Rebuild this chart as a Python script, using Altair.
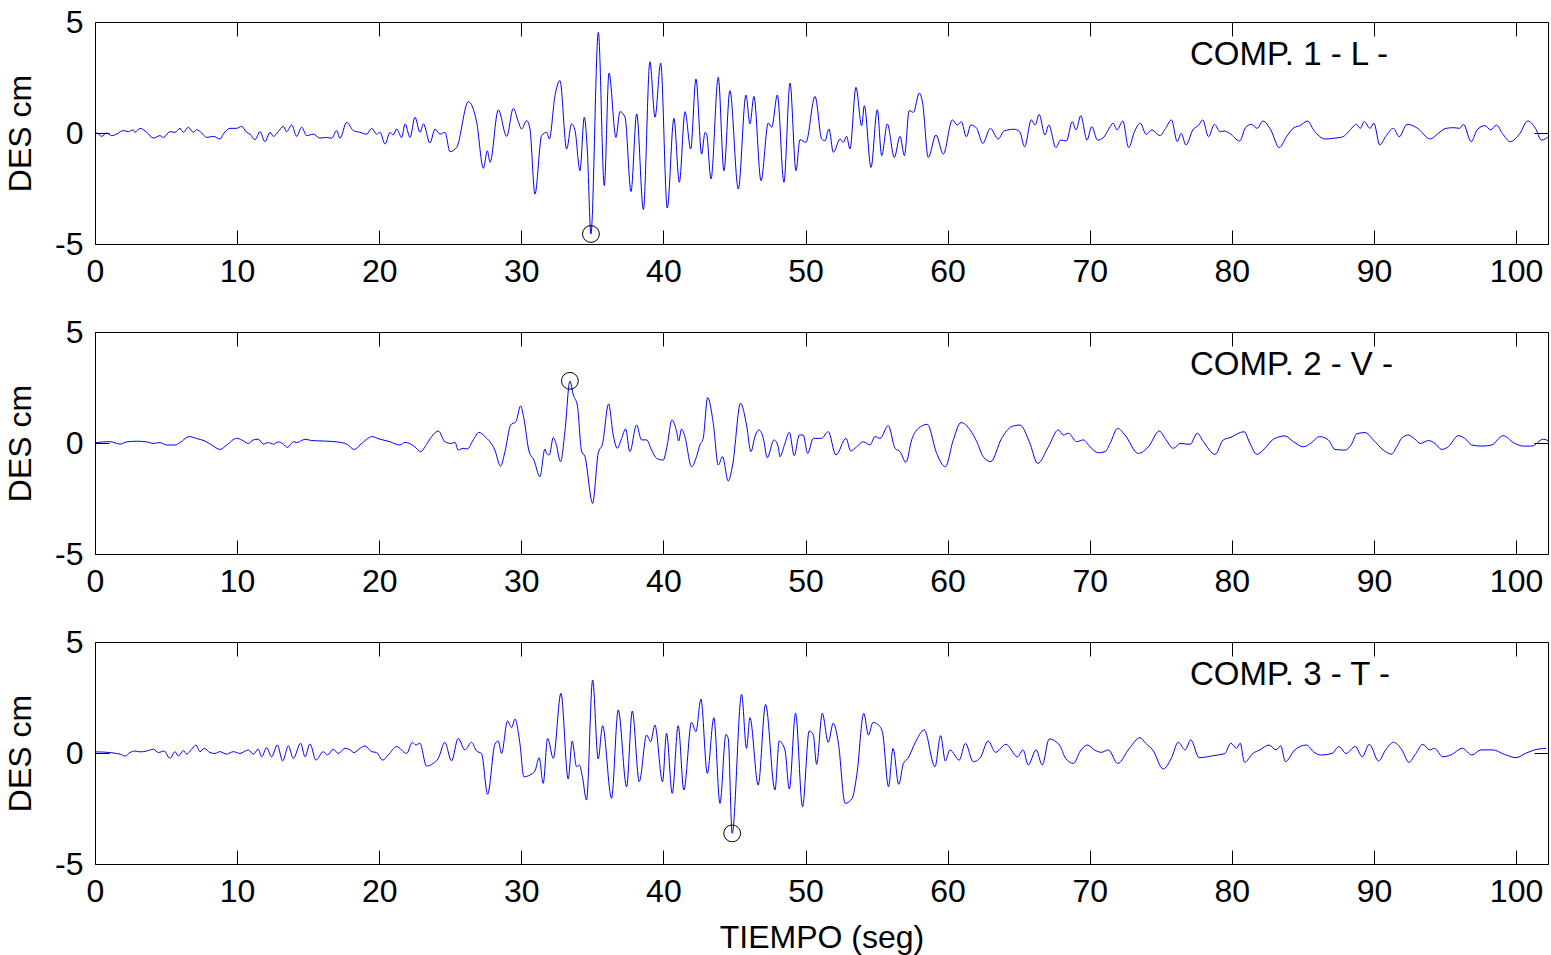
import altair as alt
import pandas as pd

# ---------------- data ----------------
X_MAX = 102.25
X_TICKS = [0, 10, 20, 30, 40, 50, 60, 70, 80, 90, 100]
Y_TICKS = [-5, 0, 5]

LABELS = ["COMP. 1 - L -", "COMP. 2 - V -", "COMP. 3 - T -"]
LABEL_T = [77.06, 77.06, 77.06]
LABEL_V = [3.5, 3.5, 3.5]

PEAK_T = [34.90, 33.42, 44.84]
PEAK_V = [-4.55, 2.80, -3.62]

# Component 1 (L)
T1 = [0.00, 0.12, 0.47, 0.82, 1.17, 1.52, 1.99, 2.35, 2.70, 2.81,
      3.17, 3.64, 4.11, 4.57, 4.81, 5.28, 5.63, 5.98, 6.22, 6.57,
      6.92, 7.15, 7.51, 7.86, 8.33, 8.80, 9.03, 9.50, 9.97, 10.32,
      10.67, 10.91, 11.26, 11.61, 11.96, 12.32, 12.55, 12.90, 13.25, 13.49,
      13.84, 14.19, 14.54, 14.90, 15.36, 15.83, 16.30, 16.65, 17.01, 17.24,
      17.71, 18.18, 18.65, 19.12, 19.47, 19.82, 20.06, 20.41, 20.76, 20.99,
      21.23, 21.58, 21.82, 22.17, 22.52, 22.87, 23.11, 23.57, 23.93, 24.28,
      24.63, 24.98, 25.45, 26.27, 26.86, 27.33, 27.61, 27.80, 28.38, 28.97,
      29.44, 29.79, 30.02, 30.38, 30.61, 30.96, 31.43, 31.78, 31.97, 32.37,
      32.72, 33.19, 33.54, 33.78, 34.13, 34.43, 34.64, 34.90, 35.42, 35.84,
      36.17, 36.66, 36.94, 37.30, 37.72, 38.12, 38.59, 39.05, 39.41, 39.81,
      40.27, 40.74, 41.12, 41.52, 41.92, 42.29, 42.69, 42.93, 43.04, 43.35,
      43.86, 44.26, 44.68, 45.27, 45.81, 46.09, 46.37, 46.87, 47.38, 47.62,
      48.02, 48.48, 48.91, 49.33, 49.61, 50.03, 50.67, 51.14, 51.37, 51.65,
      51.96, 52.43, 52.66, 52.89, 53.13, 53.55, 53.95, 54.14, 54.61, 55.05,
      55.36, 55.76, 56.25, 56.65, 56.96, 57.30, 57.59, 58.01, 58.24, 58.64,
      59.18, 59.70, 60.33, 60.68, 60.96, 61.32, 61.64, 62.05, 62.47, 63.01,
      63.56, 63.97, 64.66, 65.07, 65.42, 65.89, 66.16, 66.44, 66.85, 67.12,
      67.62, 67.95, 68.36, 68.77, 69.04, 69.37, 69.81, 70.14, 70.55, 70.96,
      71.37, 71.64, 71.92, 72.33, 72.74, 73.15, 73.56, 73.97, 74.38, 74.93,
      75.34, 75.75, 76.16, 76.44, 76.77, 77.26, 77.67, 77.95, 78.36, 78.77,
      79.18, 79.45, 79.86, 80.55, 80.96, 81.37, 81.78, 82.19, 82.74, 83.34,
      83.84, 84.38, 84.79, 85.34, 85.75, 86.58, 87.12, 87.81, 88.22, 88.77,
      89.04, 89.32, 89.73, 90.00, 90.41, 90.82, 91.37, 91.78, 92.33, 93.01,
      93.97, 94.52, 95.07, 95.62, 96.03, 96.30, 96.85, 97.26, 97.81, 98.22,
      98.63, 99.04, 99.59, 100.27, 100.82, 101.37, 101.78, 102.41]
V1 = [0.00, 0.00, -0.15, 0.00, -0.12, -0.05, 0.11, 0.06, 0.14, 0.03,
      0.21, 0.03, -0.23, -0.12, -0.20, 0.06, 0.03, 0.21, 0.03, 0.26,
      0.03, 0.15, 0.00, -0.20, -0.15, -0.27, -0.05, 0.21, 0.21, 0.30,
      0.03, -0.05, -0.30, 0.06, -0.39, 0.03, -0.15, 0.06, 0.30, 0.06,
      0.36, -0.15, 0.26, -0.12, -0.05, -0.23, -0.20, -0.24, 0.11, -0.24,
      0.48, 0.11, 0.03, -0.05, 0.21, -0.05, 0.03, -0.50, 0.03, -0.09,
      0.18, -0.20, 0.41, -0.20, 0.71, 0.03, 0.41, -0.45, 0.18, -0.05,
      0.03, -0.84, -0.65, 1.41, 0.48, -1.59, -0.80, -1.32, 1.04, -0.15,
      1.11, 0.51, 0.18, 0.56, 0.18, -2.75, -0.12, 0.03, -0.27, 1.68,
      2.36, -0.72, 0.41, 0.11, -1.70, 0.71, -0.72, -4.55, 4.53, -2.37,
      2.70, -0.20, 0.96, 0.71, -2.64, 0.86, -3.45, 3.21, 0.71, 3.15,
      -3.38, 0.66, -2.22, 0.96, -0.72, 2.43, -0.95, 0.03, -0.05, -2.07,
      2.51, -1.70, 1.91, -2.52, 1.71, 0.41, 1.65, -2.15, 0.45, 0.26,
      1.71, -2.22, 2.25, -1.70, -0.30, -0.42, 1.65, -0.27, -0.35, 0.18,
      -0.87, -0.27, -0.42, -0.15, -0.72, 2.06, 0.33, 1.23, -1.55, 1.05,
      -1.02, 0.41, -1.10, -0.15, -1.02, 1.01, 0.93, 1.80, 1.35, -1.10,
      -0.09, -0.95, 0.59, 0.36, 0.51, -0.17, 0.36, 0.21, -0.47, 0.21,
      -0.27, 0.09, 0.17, 0.06, -0.62, 0.59, 0.36, 0.84, -0.09, 0.36,
      -0.66, -0.32, -0.36, 0.51, 0.14, 0.78, -0.32, 0.29, -0.32, -0.21,
      0.21, 0.44, 0.14, 0.54, -0.66, 0.06, 0.44, -0.06, 0.14, -0.12,
      0.21, 0.59, -0.39, -0.02, -0.54, 0.14, 0.36, 0.59, -0.17, 0.39,
      0.06, 0.09, -0.02, -0.36, 0.24, 0.39, 0.21, 0.54, 0.14, -0.66,
      -0.17, 0.24, 0.33, 0.54, 0.14, -0.27, -0.24, -0.17, 0.06, 0.39,
      0.21, 0.51, 0.21, 0.44, -0.54, -0.17, 0.21, -0.17, 0.39, 0.24,
      -0.27, -0.02, 0.21, 0.24, 0.21, 0.39, -0.39, 0.14, 0.33, 0.14,
      0.36, -0.02, -0.39, -0.02, 0.54, 0.21, -0.32, -0.09]

# Component 2 (V)
T2 = [0.00, 0.12, 1.06, 1.76, 2.23, 2.93, 3.64, 4.11, 4.57, 5.04,
      5.63, 5.98, 6.64, 7.15, 7.74, 8.21, 8.80, 9.27, 9.97, 10.32,
      10.79, 11.14, 11.49, 11.85, 12.20, 12.55, 12.90, 13.25, 13.54, 13.96,
      14.19, 14.54, 14.78, 15.25, 16.07, 17.01, 17.71, 18.25, 18.65, 19.12,
      19.47, 20.06, 20.75, 21.46, 21.81, 22.51, 22.91, 23.33, 23.69, 24.16,
      24.62, 25.09, 25.33, 25.56, 25.91, 26.20, 26.62, 27.02, 27.44, 28.14,
      28.54, 28.85, 29.25, 29.62, 29.95, 30.18, 30.54, 30.89, 31.31, 31.66,
      31.78, 31.97, 32.25, 32.44, 32.76, 33.07, 33.42, 33.66, 33.94, 34.24,
      34.48, 35.02, 35.41, 35.72, 36.14, 36.47, 36.75, 37.06, 37.34, 37.64,
      38.11, 38.46, 38.82, 39.17, 39.52, 39.99, 40.27, 40.60, 40.93, 41.07,
      41.28, 41.51, 41.98, 42.33, 42.57, 42.80, 43.11, 43.51, 43.86, 44.16,
      44.56, 44.87, 45.43, 45.85, 46.16, 46.44, 46.74, 47.03, 47.31, 47.78,
      48.08, 48.20, 48.55, 48.86, 49.21, 49.56, 49.84, 50.15, 50.55, 51.13,
      51.60, 52.14, 52.85, 53.18, 53.60, 54.07, 54.54, 54.89, 55.24, 55.83,
      56.30, 56.65, 57.07, 57.47, 57.94, 58.57, 59.23, 59.84, 60.40, 60.94,
      61.58, 62.05, 62.51, 63.03, 63.80, 64.51, 65.09, 65.75, 66.34, 67.09,
      67.79, 68.14, 68.50, 69.08, 69.55, 70.02, 70.61, 71.08, 71.43, 71.97,
      72.48, 73.42, 74.13, 74.90, 75.30, 75.89, 76.35, 77.06, 77.57, 78.00,
      78.82, 79.40, 79.87, 80.86, 81.28, 81.75, 82.33, 82.92, 83.74, 84.33,
      85.03, 85.62, 86.16, 86.79, 87.26, 87.96, 88.43, 88.78, 89.37, 89.96,
      90.66, 91.25, 91.60, 91.95, 92.42, 92.89, 93.29, 93.83, 94.30, 94.76,
      95.23, 95.94, 96.52, 96.88, 97.58, 98.28, 99.10, 99.81, 100.51, 101.10,
      101.92, 102.39]
V2 = [0.00, 0.02, 0.06, -0.05, 0.05, 0.08, 0.05, -0.02, 0.02, -0.09,
      -0.09, 0.02, 0.29, 0.20, 0.09, -0.09, -0.29, -0.09, 0.21, 0.14,
      -0.02, 0.14, 0.17, -0.05, 0.02, -0.05, 0.05, -0.05, -0.20, 0.06,
      0.02, 0.11, 0.17, 0.11, 0.09, 0.05, -0.05, -0.29, -0.09, 0.17,
      0.29, 0.17, 0.06, -0.09, 0.03, -0.17, -0.39, -0.06, 0.29, 0.54,
      0.06, -0.02, 0.03, -0.32, -0.24, -0.27, 0.14, 0.48, 0.29, -0.32,
      -1.04, -0.39, 0.81, 0.96, 1.67, 1.11, -0.36, -0.77, -1.52, -0.27,
      -0.47, -0.54, 0.24, -0.02, -0.84, 0.51, 2.79, 2.16, 1.71, -0.36,
      -0.62, -2.72, -0.47, -0.02, 1.76, 0.36, -0.24, 0.21, 0.63, -0.39,
      0.81, 0.14, 0.14, -0.32, -0.69, -0.77, -0.09, 1.04, 0.51, 0.09,
      0.63, 0.29, -1.07, -0.62, -0.09, 0.21, 2.04, 0.89, -0.99, -0.62,
      -1.71, -0.99, 1.79, 0.81, -0.39, 0.29, 0.59, 0.21, -0.66, 0.14,
      -0.17, -0.62, -0.02, 0.48, -0.57, 0.36, 0.36, -0.47, 0.21, 0.21,
      0.51, -0.54, 0.21, -0.36, -0.17, 0.06, -0.09, 0.29, 0.21, 0.78,
      -0.24, -0.39, -0.87, 0.14, 0.66, 0.84, -0.47, -1.07, 0.14, 0.92,
      0.59, 0.06, -0.62, -0.84, 0.21, 0.74, 0.81, 0.06, -0.92, -0.17,
      0.59, 0.36, 0.44, 0.06, 0.14, -0.17, -0.44, -0.39, -0.02, 0.66,
      0.36, -0.47, -0.17, 0.54, 0.21, -0.24, -0.02, -0.06, 0.44, 0.06,
      -0.51, 0.14, 0.24, 0.51, -0.02, -0.51, -0.24, 0.17, 0.32, 0.06,
      -0.17, 0.02, 0.29, 0.14, -0.29, -0.32, -0.05, 0.41, 0.47, 0.14,
      -0.32, -0.50, -0.17, 0.21, 0.36, 0.17, -0.02, 0.11, -0.02, -0.29,
      -0.17, 0.33, 0.14, -0.09, -0.14, -0.09, 0.33, 0.02, -0.14, -0.14,
      0.17, 0.06]

# Component 3 (T)
T3 = [0.00, 0.12, 1.06, 1.52, 1.76, 2.11, 2.46, 2.81, 3.17, 3.64,
      4.11, 4.46, 4.86, 5.28, 5.63, 5.86, 6.22, 6.45, 6.80, 7.11,
      7.39, 7.69, 8.09, 8.44, 8.80, 9.27, 9.73, 10.20, 10.79, 11.14,
      11.49, 11.73, 12.08, 12.43, 12.83, 13.21, 13.61, 13.96, 14.47, 14.78,
      15.13, 15.55, 16.07, 16.35, 16.77, 17.12, 17.59, 17.95, 18.23, 18.65,
      19.00, 19.47, 19.82, 20.24, 20.64, 21.22, 21.93, 22.33, 22.58, 22.86,
      23.33, 23.80, 24.16, 24.62, 25.09, 25.56, 26.03, 26.50, 26.85, 27.20,
      27.63, 28.14, 28.38, 28.61, 29.03, 29.32, 29.55, 29.90, 30.18, 30.61,
      30.96, 31.26, 31.54, 31.85, 32.25, 32.79, 33.30, 33.58, 33.89, 34.08,
      34.31, 34.59, 35.02, 35.41, 35.72, 36.35, 36.82, 37.41, 37.81, 38.30,
      38.82, 39.10, 39.40, 39.94, 40.22, 40.62, 41.04, 41.44, 41.98, 42.29,
      42.64, 43.09, 43.55, 43.98, 44.40, 44.56, 44.84, 45.50, 45.85, 46.09,
      46.67, 47.19, 47.85, 48.15, 48.55, 48.86, 49.30, 49.79, 50.26, 50.55,
      50.78, 51.18, 51.60, 51.95, 52.30, 52.79, 53.28, 53.61, 54.10, 54.43,
      54.75, 55.08, 55.41, 55.84, 56.16, 56.56, 56.89, 57.21, 57.70, 58.36,
      59.11, 59.51, 59.84, 60.16, 60.82, 61.25, 61.80, 62.30, 62.85, 63.38,
      64.10, 64.92, 65.31, 65.67, 66.23, 66.66, 67.15, 67.87, 68.30, 68.85,
      69.34, 69.84, 70.33, 70.82, 71.31, 71.97, 72.79, 73.54, 73.93, 74.43,
      75.18, 75.74, 76.23, 76.72, 77.11, 77.70, 78.69, 79.51, 79.93, 80.33,
      80.59, 80.89, 81.48, 81.97, 82.62, 83.11, 83.44, 83.77, 84.43, 85.25,
      85.74, 86.23, 87.05, 87.54, 88.03, 88.69, 89.18, 89.67, 90.33, 90.82,
      91.38, 91.97, 92.46, 92.95, 93.44, 93.93, 94.26, 94.85, 95.41, 96.23,
      96.89, 97.54, 98.36, 99.18, 100.00, 100.66, 101.31, 102.13]
V3 = [0.05, 0.05, 0.02, -0.02, -0.05, -0.14, 0.02, 0.09, 0.05, 0.09,
      0.17, 0.02, 0.09, -0.24, 0.06, -0.14, 0.11, -0.05, 0.17, 0.36,
      0.06, 0.21, 0.02, -0.02, 0.06, -0.05, 0.06, -0.02, 0.14, -0.05,
      0.17, -0.17, 0.24, -0.17, 0.36, -0.36, 0.32, -0.24, 0.44, -0.17,
      0.41, -0.32, 0.06, -0.09, 0.17, -0.02, 0.21, 0.14, 0.02, 0.21,
      0.32, 0.06, 0.02, -0.32, -0.09, 0.29, -0.02, 0.48, 0.36, 0.44,
      -0.59, -0.47, -0.24, 0.48, -0.36, 0.66, 0.14, 0.48, 0.09, -0.02,
      -1.86, 0.39, 0.54, -0.02, 1.44, 1.14, 1.53, 0.44, -1.07, -0.99,
      -0.81, -0.21, -1.37, 0.66, -0.24, 2.69, -1.17, 0.54, -0.62, -0.54,
      -1.11, -2.12, 3.29, -0.27, 1.23, -2.04, 1.94, -1.52, 1.89, -1.29,
      0.81, 0.51, 1.26, -1.29, 0.89, -1.82, 1.23, -1.67, 1.38, 0.96,
      2.43, -0.92, 1.59, -2.27, 0.84, 0.66, -3.62, 2.64, 0.21, 1.59,
      -1.44, 2.19, -1.67, 0.54, 0.14, -1.62, 1.79, -2.42, 0.99, 0.81,
      -0.51, 1.79, 0.48, 1.34, 0.51, -2.27, -2.04, -0.99, 1.79, 0.81,
      1.38, 1.29, 0.96, -1.52, 0.21, -1.41, -0.47, -0.24, 0.44, 1.04,
      -0.62, 0.78, -0.36, 0.14, -0.32, 0.44, -0.39, -0.21, 0.54, 0.03,
      0.39, -0.17, 0.14, -0.54, 0.14, -0.54, 0.63, 0.36, -0.24, -0.47,
      0.09, 0.36, 0.14, 0.03, 0.14, -0.47, 0.21, 0.69, 0.44, 0.14,
      -0.72, -0.24, 0.48, 0.14, 0.59, -0.21, -0.12, -0.02, 0.44, 0.21,
      0.44, -0.42, -0.02, 0.14, 0.36, 0.14, 0.33, -0.39, 0.14, 0.36,
      0.06, -0.09, -0.02, 0.29, -0.02, 0.29, -0.17, 0.39, -0.36, 0.14,
      0.48, 0.14, -0.42, -0.02, 0.39, 0.14, 0.21, -0.17, -0.09, 0.21,
      -0.09, 0.14, 0.14, -0.06, -0.21, -0.02, 0.14, 0.21]

# ---------------- styling ----------------
FONT = "Liberation Sans"
FS = 32
FS_TEXT = 33
TRACE = "#0000ff"
PLOT_W = 1453
PLOT_H = 222
LABEL_EXPR = "'' + datum.value"  # plain hyphen-minus, as in the original


def panel(t, v, i, last):
    df = pd.DataFrame({"t": t, "v": v})
    peak = pd.DataFrame({"t": [PEAK_T[i]], "v": [PEAK_V[i]]})
    lab = pd.DataFrame({"t": [LABEL_T[i]], "v": [LABEL_V[i]], "label": [LABELS[i]]})

    xs = alt.Scale(domain=[0, X_MAX], nice=False, zero=False)
    ys = alt.Scale(domain=[-5, 5], nice=False, zero=False)

    common = dict(grid=False, domain=False, ticks=True, tickSize=14, offset=-14,
                  tickColor="black", tickWidth=1,
                  labelFont=FONT, labelFontSize=FS, labelColor="black",
                  titleFont=FONT, titleFontSize=FS, titleColor="black",
                  titleFontWeight="normal")

    if last:
        xb = alt.Axis(orient="bottom", values=X_TICKS, labelPadding=12, labelFlush=False,
                      labelOverlap=False, labelExpr=LABEL_EXPR,
                      title="TIEMPO (seg)", titlePadding=15, **common)
    else:
        xb = alt.Axis(orient="bottom", values=X_TICKS, labelPadding=12, labelFlush=False,
                      labelOverlap=False, labelExpr=LABEL_EXPR, title=None, **common)
    yl = alt.Axis(orient="left", values=Y_TICKS, labelPadding=12, labelFlush=False,
                  labelExpr=LABEL_EXPR, title="DES cm", titlePadding=17, **common)
    xt = alt.Axis(orient="top", values=X_TICKS, labels=False, title=None, **common)
    yr = alt.Axis(orient="right", values=Y_TICKS, labels=False, title=None, **common)

    line = alt.Chart(df).mark_line(color=TRACE, strokeWidth=1, clip=True,
                                   interpolate="monotone").encode(
        x=alt.X("t:Q", scale=xs, axis=xb),
        y=alt.Y("v:Q", scale=ys, axis=yl),
    )
    frame = alt.Chart(df).mark_line(opacity=0, clip=True).encode(
        x=alt.X("t:Q", scale=xs, axis=xt),
        y=alt.Y("v:Q", scale=ys, axis=yr),
    )
    circ = alt.Chart(peak).mark_point(shape="circle", size=283, filled=False,
                                      color="black", strokeWidth=1, opacity=1).encode(
        x=alt.X("t:Q", scale=xs, axis=None),
        y=alt.Y("v:Q", scale=ys, axis=None),
    )
    txt = alt.Chart(lab).mark_text(align="left", baseline="middle", font=FONT,
                                   fontSize=FS_TEXT, color="black").encode(
        x=alt.X("t:Q", scale=xs, axis=None),
        y=alt.Y("v:Q", scale=ys, axis=None),
        text="label:N",
    )
    return (alt.layer(line, frame, circ, txt)
            .resolve_axis(x="independent", y="independent")
            .properties(width=PLOT_W, height=PLOT_H))


p1 = panel(T1, V1, 0, False)
p2 = panel(T2, V2, 1, False)
p3 = panel(T3, V3, 2, True)

chart = (alt.vconcat(p1, p2, p3, spacing=88, bounds="flush")
         .properties(padding={"left": 4, "top": 5, "right": 2, "bottom": 4},
                     background="white")
         .configure_view(stroke="black", strokeWidth=1))

chart.save("out.html", embed_options={"renderer": "svg", "actions": False})
